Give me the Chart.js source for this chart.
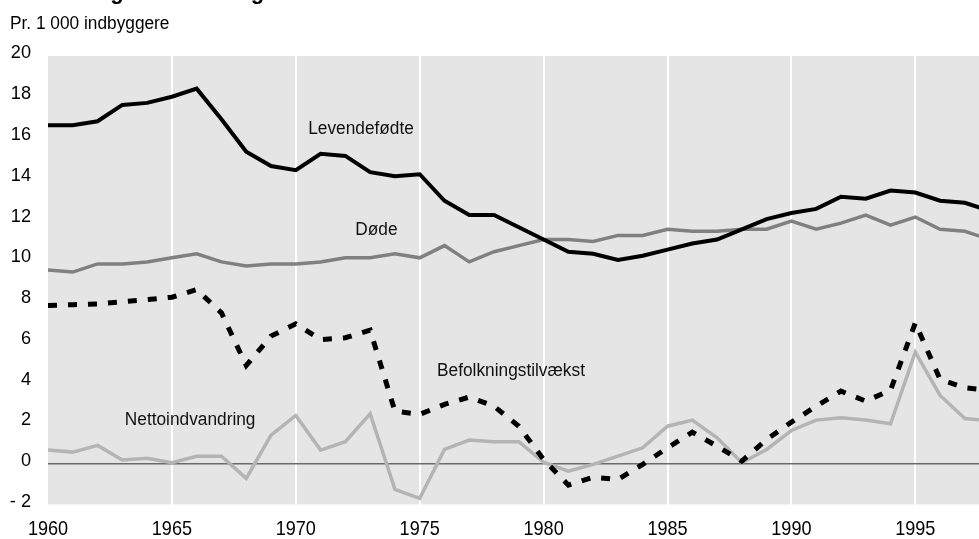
<!DOCTYPE html>
<html lang="da">
<head>
<meta charset="UTF-8"/>
<title>Befolkningens udvikling</title>
<script src="https://cdn.jsdelivr.net/npm/chart.js@4.4.7/dist/chart.umd.min.js"></script>
<style>
*{margin:0;padding:0;box-sizing:border-box}
body{background:#fff;width:979px;height:539px;overflow:hidden}
#chart{display:block}
</style>
</head>
<body>
<canvas id="chart" width="979" height="539"></canvas>
<script>
// Pr. 1 000 indbyggere, 1960-1998
const years = [1960, 1961, 1962, 1963, 1964, 1965, 1966, 1967, 1968, 1969,
               1970, 1971, 1972, 1973, 1974, 1975, 1976, 1977, 1978, 1979,
               1980, 1981, 1982, 1983, 1984, 1985, 1986, 1987, 1988, 1989,
               1990, 1991, 1992, 1993, 1994, 1995, 1996, 1997, 1998];

const levendefodte = [16.6, 16.6, 16.8, 17.6, 17.7, 18.0, 18.4, 16.9, 15.3, 14.6,
                      14.4, 15.2, 15.1, 14.3, 14.1, 14.2, 12.9, 12.2, 12.2, 11.6,
                      11.0, 10.4, 10.3, 10.0, 10.2, 10.5, 10.8, 11.0, 11.5, 12.0,
                      12.3, 12.5, 13.1, 13.0, 13.4, 13.3, 12.9, 12.8, 12.4];

const dode = [9.5, 9.4, 9.8, 9.8, 9.9, 10.1, 10.3, 9.9, 9.7, 9.8,
              9.8, 9.9, 10.1, 10.1, 10.3, 10.1, 10.7, 9.9, 10.4, 10.7,
              11.0, 11.0, 10.9, 11.2, 11.2, 11.5, 11.4, 11.4, 11.5, 11.5,
              11.9, 11.5, 11.8, 12.2, 11.7, 12.1, 11.5, 11.4, 11.0];

const tilvaekst = [7.76, 7.8, 7.84, 7.94, 8.05, 8.17, 8.54, 7.4, 4.82, 6.26,
                   6.86, 6.09, 6.18, 6.55, 2.58, 2.42, 2.91, 3.27, 2.82, 1.84,
                   0.21, -1.05, -0.66, -0.77, -0.03, 0.78, 1.55, 0.86, 0.13, 1.19,
                   2.04, 2.82, 3.56, 3.07, 3.61, 6.91, 4.13, 3.73, 3.6];

const netto = [0.67, 0.57, 0.9, 0.18, 0.27, 0.05, 0.37, 0.37, -0.72, 1.4,
               2.37, 0.67, 1.08, 2.45, -1.26, -1.7, 0.7, 1.16, 1.08, 1.08,
               0.08, -0.36, -0.03, 0.37, 0.78, 1.84, 2.14, 1.27, 0.05, 0.7,
               1.63, 2.14, 2.25, 2.14, 1.96, 5.47, 3.35, 2.22, 2.1];

const xTicks = [1960, 1965, 1970, 1975, 1980, 1985, 1990, 1995];
const yTicks = [-2, 0, 2, 4, 6, 8, 10, 12, 14, 16, 18, 20];

// line labels, placed in data coordinates (left edge, vertical centre)
const lineLabels = [
  { text: 'Levendefødte',        x: 1970.5, y: 16.4 },
  { text: 'Døde',                x: 1972.4, y: 11.45 },
  { text: 'Befolkningstilvækst', x: 1975.7, y: 4.55 },
  { text: 'Nettoindvandring',    x: 1963.1, y: 2.15 },
];

const FONT = "'Liberation Sans', Arial, sans-serif";
const pts = (vals) => years.map((yr, i) => ({ x: yr, y: vals[i] }));

// text in the original is a slightly condensed Helvetica
function say(ctx, text, x, y, size, squeeze, align) {
  ctx.save();
  ctx.translate(x, y);
  ctx.scale(squeeze, 1);
  ctx.font = `${size}px ${FONT}`;
  ctx.textAlign = align;
  ctx.textBaseline = 'middle';
  ctx.fillText(text, 0, 0);
  ctx.restore();
}

const plotBg = {
  id: 'plotBg',
  beforeDraw(chart) {
    const { ctx, chartArea: a } = chart;
    ctx.save();
    ctx.fillStyle = '#e5e5e5';
    ctx.fillRect(a.left, a.top, a.right - a.left, a.bottom - a.top);
    ctx.restore();
  }
};

const texts = {
  id: 'texts',
  afterDraw(chart) {
    const { ctx, scales: { x, y } } = chart;
    ctx.save();
    ctx.fillStyle = '#000';
    // cropped title: only descenders reach into the picture
    ctx.font = `bold 22px ${FONT}`;
    ctx.textBaseline = 'alphabetic';
    ctx.textAlign = 'left';
    ctx.fillText('Befolkningens udvikling', 10, -1);

    say(ctx, 'Pr. 1 000 indbyggere', 10, 24, 18, 0.96, 'left');

    for (const v of yTicks) {
      say(ctx, v < 0 ? '- ' + Math.abs(v) : String(v), 31, y.getPixelForValue(v) - 2.6, 18.5, 0.98, 'right');
    }
    for (const v of xTicks) {
      say(ctx, String(v), x.getPixelForValue(v), 529, 21, 0.86, 'center');
    }

    ctx.fillStyle = '#111';
    for (const l of lineLabels) {
      say(ctx, l.text, x.getPixelForValue(l.x), y.getPixelForValue(l.y), 18, 0.96, 'left');
    }
    ctx.restore();
  }
};

new Chart(document.getElementById('chart'), {
  type: 'line',
  data: {
    datasets: [
      { label: 'Levendefødte', data: pts(levendefodte), borderColor: '#000', borderWidth: 4, order: 1 },
      { label: 'Døde', data: pts(dode), borderColor: '#808080', borderWidth: 3.5, order: 2 },
      { label: 'Befolkningstilvækst', data: pts(tilvaekst), borderColor: '#000', borderWidth: 5, borderDash: [9, 11], borderCapStyle: 'butt', order: 3 },
      { label: 'Nettoindvandring', data: pts(netto), borderColor: '#b4b4b4', borderWidth: 3.5, order: 4 },
    ]
  },
  options: {
    responsive: false,
    animation: false,
    events: [],
    layout: { padding: { top: 56, right: 0, left: 0, bottom: 0 } },
    elements: { point: { radius: 0 }, line: { tension: 0, borderJoinStyle: 'miter' } },
    plugins: { legend: { display: false }, tooltip: { enabled: false } },
    scales: {
      x: {
        type: 'linear',
        min: 1960,
        max: 1997.57,
        afterFit(s) { s.height = 34.5; },
        afterBuildTicks(s) { s.ticks = xTicks.map(v => ({ value: v })); },
        border: { display: false },
        grid: {
          drawTicks: false,
          lineWidth: 2,
          color: (c) => (c.tick && c.tick.value === 1960) ? 'rgba(0,0,0,0)' : '#ffffff',
        },
        ticks: { display: false }
      },
      y: {
        min: -2,
        max: 20,
        afterFit(s) { s.width = 48; },
        afterBuildTicks(s) { s.ticks = yTicks.map(v => ({ value: v })); },
        border: { display: false },
        grid: {
          drawTicks: false,
          lineWidth: 1.5,
          color: (c) => (c.tick && c.tick.value === 0) ? '#6a6a6a' : 'rgba(0,0,0,0)',
        },
        ticks: { display: false }
      }
    }
  },
  plugins: [plotBg, texts]
});
</script>
</body>
</html>
